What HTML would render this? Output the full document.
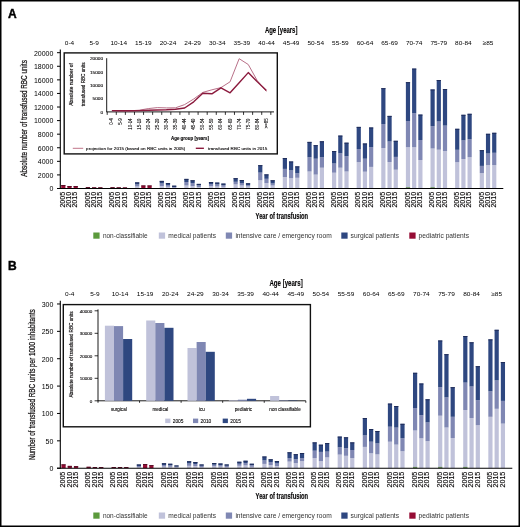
<!DOCTYPE html><html><head><meta charset="utf-8"><style>html,body{margin:0;padding:0;background:#fff;overflow:hidden}svg{display:block;will-change:transform}text{font-family:"Liberation Sans",sans-serif}</style></head><body>
<svg width="520" height="527" viewBox="0 0 520 527">
<rect x="0" y="0" width="520" height="527" fill="#fff"/>
<text x="7.9" y="18.1" font-size="12" font-weight="bold" fill="#000" stroke="#000" stroke-width="0.4">A</text>
<text x="264.9" y="33.3" font-size="8.7" font-weight="bold" textLength="32.5" lengthAdjust="spacingAndGlyphs" stroke="#231f20" stroke-width="0.18">Age [years]</text>
<rect x="61.20" y="185.00" width="4.20" height="3.50" fill="#950c34"/>
<rect x="61.20" y="185.00" width="4.20" height="0.80" fill="#4a0c20"/>
<rect x="67.40" y="186.00" width="4.20" height="2.50" fill="#950c34"/>
<rect x="67.40" y="186.00" width="4.20" height="0.80" fill="#4a0c20"/>
<rect x="73.60" y="186.00" width="4.20" height="2.50" fill="#950c34"/>
<rect x="73.60" y="186.00" width="4.20" height="0.80" fill="#4a0c20"/>
<rect x="85.82" y="187.20" width="4.20" height="1.30" fill="#950c34"/>
<rect x="85.82" y="187.20" width="4.20" height="0.80" fill="#4a0c20"/>
<rect x="92.02" y="187.40" width="4.20" height="1.10" fill="#950c34"/>
<rect x="92.02" y="187.40" width="4.20" height="0.80" fill="#4a0c20"/>
<rect x="98.22" y="187.40" width="4.20" height="1.10" fill="#950c34"/>
<rect x="98.22" y="187.40" width="4.20" height="0.80" fill="#4a0c20"/>
<rect x="110.44" y="187.30" width="4.20" height="1.20" fill="#950c34"/>
<rect x="110.44" y="187.30" width="4.20" height="0.80" fill="#4a0c20"/>
<rect x="116.64" y="187.40" width="4.20" height="1.10" fill="#950c34"/>
<rect x="116.64" y="187.40" width="4.20" height="0.80" fill="#4a0c20"/>
<rect x="122.84" y="187.50" width="4.20" height="1.00" fill="#950c34"/>
<rect x="122.84" y="187.50" width="4.20" height="0.80" fill="#4a0c20"/>
<rect x="135.06" y="186.50" width="4.20" height="2.00" fill="#c0c2da"/>
<rect x="135.06" y="184.50" width="4.20" height="2.00" fill="#7f87b3"/>
<rect x="135.06" y="182.40" width="4.20" height="2.10" fill="#2e4780"/>
<rect x="135.06" y="182.40" width="4.20" height="0.90" fill="#1e2a55"/>
<rect x="141.26" y="185.50" width="4.20" height="3.00" fill="#950c34"/>
<rect x="141.26" y="185.50" width="4.20" height="0.80" fill="#4a0c20"/>
<rect x="147.46" y="185.50" width="4.20" height="3.00" fill="#950c34"/>
<rect x="147.46" y="185.50" width="4.20" height="0.80" fill="#4a0c20"/>
<rect x="159.68" y="186.00" width="4.20" height="2.50" fill="#c0c2da"/>
<rect x="159.68" y="183.50" width="4.20" height="2.50" fill="#7f87b3"/>
<rect x="159.68" y="180.90" width="4.20" height="2.60" fill="#2e4780"/>
<rect x="159.68" y="180.90" width="4.20" height="0.90" fill="#1e2a55"/>
<rect x="165.88" y="186.80" width="4.20" height="1.70" fill="#c0c2da"/>
<rect x="165.88" y="185.00" width="4.20" height="1.80" fill="#7f87b3"/>
<rect x="165.88" y="183.00" width="4.20" height="2.00" fill="#2e4780"/>
<rect x="165.88" y="183.00" width="4.20" height="0.90" fill="#1e2a55"/>
<rect x="172.08" y="187.80" width="4.20" height="0.70" fill="#c0c2da"/>
<rect x="172.08" y="187.00" width="4.20" height="0.80" fill="#7f87b3"/>
<rect x="172.08" y="185.70" width="4.20" height="1.30" fill="#2e4780"/>
<rect x="172.08" y="185.70" width="4.20" height="0.90" fill="#1e2a55"/>
<rect x="184.30" y="185.50" width="4.20" height="3.00" fill="#c0c2da"/>
<rect x="184.30" y="182.00" width="4.20" height="3.50" fill="#7f87b3"/>
<rect x="184.30" y="178.90" width="4.20" height="3.10" fill="#2e4780"/>
<rect x="184.30" y="178.90" width="4.20" height="0.90" fill="#1e2a55"/>
<rect x="190.50" y="186.00" width="4.20" height="2.50" fill="#c0c2da"/>
<rect x="190.50" y="183.00" width="4.20" height="3.00" fill="#7f87b3"/>
<rect x="190.50" y="180.30" width="4.20" height="2.70" fill="#2e4780"/>
<rect x="190.50" y="180.30" width="4.20" height="0.90" fill="#1e2a55"/>
<rect x="196.70" y="187.00" width="4.20" height="1.50" fill="#c0c2da"/>
<rect x="196.70" y="185.50" width="4.20" height="1.50" fill="#7f87b3"/>
<rect x="196.70" y="183.90" width="4.20" height="1.60" fill="#2e4780"/>
<rect x="196.70" y="183.90" width="4.20" height="0.90" fill="#1e2a55"/>
<rect x="208.92" y="186.20" width="4.20" height="2.30" fill="#c0c2da"/>
<rect x="208.92" y="184.00" width="4.20" height="2.20" fill="#7f87b3"/>
<rect x="208.92" y="182.00" width="4.20" height="2.00" fill="#2e4780"/>
<rect x="208.92" y="182.00" width="4.20" height="0.90" fill="#1e2a55"/>
<rect x="215.12" y="186.50" width="4.20" height="2.00" fill="#c0c2da"/>
<rect x="215.12" y="184.50" width="4.20" height="2.00" fill="#7f87b3"/>
<rect x="215.12" y="182.60" width="4.20" height="1.90" fill="#2e4780"/>
<rect x="215.12" y="182.60" width="4.20" height="0.90" fill="#1e2a55"/>
<rect x="221.32" y="186.80" width="4.20" height="1.70" fill="#c0c2da"/>
<rect x="221.32" y="185.30" width="4.20" height="1.50" fill="#7f87b3"/>
<rect x="221.32" y="183.60" width="4.20" height="1.70" fill="#2e4780"/>
<rect x="221.32" y="183.60" width="4.20" height="0.90" fill="#1e2a55"/>
<rect x="233.54" y="184.40" width="4.20" height="4.10" fill="#c0c2da"/>
<rect x="233.54" y="181.80" width="4.20" height="2.60" fill="#7f87b3"/>
<rect x="233.54" y="178.20" width="4.20" height="3.60" fill="#2e4780"/>
<rect x="233.54" y="178.20" width="4.20" height="0.90" fill="#1e2a55"/>
<rect x="239.74" y="185.50" width="4.20" height="3.00" fill="#c0c2da"/>
<rect x="239.74" y="183.00" width="4.20" height="2.50" fill="#7f87b3"/>
<rect x="239.74" y="180.00" width="4.20" height="3.00" fill="#2e4780"/>
<rect x="239.74" y="180.00" width="4.20" height="0.90" fill="#1e2a55"/>
<rect x="245.94" y="186.50" width="4.20" height="2.00" fill="#c0c2da"/>
<rect x="245.94" y="185.00" width="4.20" height="1.50" fill="#7f87b3"/>
<rect x="245.94" y="183.30" width="4.20" height="1.70" fill="#2e4780"/>
<rect x="245.94" y="183.30" width="4.20" height="0.90" fill="#1e2a55"/>
<rect x="258.16" y="180.30" width="4.20" height="8.20" fill="#c0c2da"/>
<rect x="258.16" y="172.60" width="4.20" height="7.70" fill="#7f87b3"/>
<rect x="258.16" y="165.20" width="4.20" height="7.40" fill="#2e4780"/>
<rect x="258.16" y="165.20" width="4.20" height="0.90" fill="#1e2a55"/>
<rect x="264.36" y="183.00" width="4.20" height="5.50" fill="#c0c2da"/>
<rect x="264.36" y="178.80" width="4.20" height="4.20" fill="#7f87b3"/>
<rect x="264.36" y="174.40" width="4.20" height="4.40" fill="#2e4780"/>
<rect x="264.36" y="174.40" width="4.20" height="0.90" fill="#1e2a55"/>
<rect x="270.56" y="185.50" width="4.20" height="3.00" fill="#c0c2da"/>
<rect x="270.56" y="183.50" width="4.20" height="2.00" fill="#7f87b3"/>
<rect x="270.56" y="180.30" width="4.20" height="3.20" fill="#2e4780"/>
<rect x="270.56" y="180.30" width="4.20" height="0.90" fill="#1e2a55"/>
<rect x="282.78" y="177.00" width="4.20" height="11.50" fill="#c0c2da"/>
<rect x="282.78" y="168.90" width="4.20" height="8.10" fill="#7f87b3"/>
<rect x="282.78" y="158.10" width="4.20" height="10.80" fill="#2e4780"/>
<rect x="282.78" y="158.10" width="4.20" height="0.90" fill="#1e2a55"/>
<rect x="288.98" y="178.20" width="4.20" height="10.30" fill="#c0c2da"/>
<rect x="288.98" y="170.40" width="4.20" height="7.80" fill="#7f87b3"/>
<rect x="288.98" y="161.50" width="4.20" height="8.90" fill="#2e4780"/>
<rect x="288.98" y="161.50" width="4.20" height="0.90" fill="#1e2a55"/>
<rect x="295.18" y="177.80" width="4.20" height="10.70" fill="#c0c2da"/>
<rect x="295.18" y="173.30" width="4.20" height="4.50" fill="#7f87b3"/>
<rect x="295.18" y="166.40" width="4.20" height="6.90" fill="#2e4780"/>
<rect x="295.18" y="166.40" width="4.20" height="0.90" fill="#1e2a55"/>
<rect x="307.40" y="171.50" width="4.20" height="17.00" fill="#c0c2da"/>
<rect x="307.40" y="157.30" width="4.20" height="14.20" fill="#7f87b3"/>
<rect x="307.40" y="141.90" width="4.20" height="15.40" fill="#2e4780"/>
<rect x="307.40" y="141.90" width="4.20" height="0.90" fill="#1e2a55"/>
<rect x="313.60" y="174.60" width="4.20" height="13.90" fill="#c0c2da"/>
<rect x="313.60" y="158.70" width="4.20" height="15.90" fill="#7f87b3"/>
<rect x="313.60" y="145.20" width="4.20" height="13.50" fill="#2e4780"/>
<rect x="313.60" y="145.20" width="4.20" height="0.90" fill="#1e2a55"/>
<rect x="319.80" y="167.70" width="4.20" height="20.80" fill="#c0c2da"/>
<rect x="319.80" y="157.30" width="4.20" height="10.40" fill="#7f87b3"/>
<rect x="319.80" y="141.30" width="4.20" height="16.00" fill="#2e4780"/>
<rect x="319.80" y="141.30" width="4.20" height="0.90" fill="#1e2a55"/>
<rect x="332.02" y="172.70" width="4.20" height="15.80" fill="#c0c2da"/>
<rect x="332.02" y="163.50" width="4.20" height="9.20" fill="#7f87b3"/>
<rect x="332.02" y="151.00" width="4.20" height="12.50" fill="#2e4780"/>
<rect x="332.02" y="151.00" width="4.20" height="0.90" fill="#1e2a55"/>
<rect x="338.22" y="167.70" width="4.20" height="20.80" fill="#c0c2da"/>
<rect x="338.22" y="153.30" width="4.20" height="14.40" fill="#7f87b3"/>
<rect x="338.22" y="135.60" width="4.20" height="17.70" fill="#2e4780"/>
<rect x="338.22" y="135.60" width="4.20" height="0.90" fill="#1e2a55"/>
<rect x="344.42" y="171.50" width="4.20" height="17.00" fill="#c0c2da"/>
<rect x="344.42" y="156.20" width="4.20" height="15.30" fill="#7f87b3"/>
<rect x="344.42" y="142.70" width="4.20" height="13.50" fill="#2e4780"/>
<rect x="344.42" y="142.70" width="4.20" height="0.90" fill="#1e2a55"/>
<rect x="356.64" y="162.10" width="4.20" height="26.40" fill="#c0c2da"/>
<rect x="356.64" y="149.00" width="4.20" height="13.10" fill="#7f87b3"/>
<rect x="356.64" y="126.90" width="4.20" height="22.10" fill="#2e4780"/>
<rect x="356.64" y="126.90" width="4.20" height="0.90" fill="#1e2a55"/>
<rect x="362.84" y="171.70" width="4.20" height="16.80" fill="#c0c2da"/>
<rect x="362.84" y="158.70" width="4.20" height="13.00" fill="#7f87b3"/>
<rect x="362.84" y="143.50" width="4.20" height="15.20" fill="#2e4780"/>
<rect x="362.84" y="143.50" width="4.20" height="0.90" fill="#1e2a55"/>
<rect x="369.04" y="166.90" width="4.20" height="21.60" fill="#c0c2da"/>
<rect x="369.04" y="147.10" width="4.20" height="19.80" fill="#7f87b3"/>
<rect x="369.04" y="127.50" width="4.20" height="19.60" fill="#2e4780"/>
<rect x="369.04" y="127.50" width="4.20" height="0.90" fill="#1e2a55"/>
<rect x="381.26" y="148.00" width="4.20" height="40.50" fill="#c0c2da"/>
<rect x="381.26" y="124.10" width="4.20" height="23.90" fill="#7f87b3"/>
<rect x="381.26" y="88.20" width="4.20" height="35.90" fill="#2e4780"/>
<rect x="381.26" y="88.20" width="4.20" height="0.90" fill="#1e2a55"/>
<rect x="387.46" y="162.00" width="4.20" height="26.50" fill="#c0c2da"/>
<rect x="387.46" y="141.50" width="4.20" height="20.50" fill="#7f87b3"/>
<rect x="387.46" y="115.90" width="4.20" height="25.60" fill="#2e4780"/>
<rect x="387.46" y="115.90" width="4.20" height="0.90" fill="#1e2a55"/>
<rect x="393.66" y="169.70" width="4.20" height="18.80" fill="#c0c2da"/>
<rect x="393.66" y="156.90" width="4.20" height="12.80" fill="#7f87b3"/>
<rect x="393.66" y="140.80" width="4.20" height="16.10" fill="#2e4780"/>
<rect x="393.66" y="140.80" width="4.20" height="0.90" fill="#1e2a55"/>
<rect x="405.88" y="147.20" width="4.20" height="41.30" fill="#c0c2da"/>
<rect x="405.88" y="187.20" width="4.20" height="1.30" fill="#6f9a5e"/>
<rect x="405.88" y="121.00" width="4.20" height="26.20" fill="#7f87b3"/>
<rect x="405.88" y="82.20" width="4.20" height="38.80" fill="#2e4780"/>
<rect x="405.88" y="82.20" width="4.20" height="0.90" fill="#1e2a55"/>
<rect x="412.08" y="147.20" width="4.20" height="41.30" fill="#c0c2da"/>
<rect x="412.08" y="113.30" width="4.20" height="33.90" fill="#7f87b3"/>
<rect x="412.08" y="68.60" width="4.20" height="44.70" fill="#2e4780"/>
<rect x="412.08" y="68.60" width="4.20" height="0.90" fill="#1e2a55"/>
<rect x="418.28" y="160.00" width="4.20" height="28.50" fill="#c0c2da"/>
<rect x="418.28" y="140.00" width="4.20" height="20.00" fill="#7f87b3"/>
<rect x="418.28" y="114.60" width="4.20" height="25.40" fill="#2e4780"/>
<rect x="418.28" y="114.60" width="4.20" height="0.90" fill="#1e2a55"/>
<rect x="430.50" y="148.50" width="4.20" height="40.00" fill="#c0c2da"/>
<rect x="430.50" y="187.20" width="4.20" height="1.30" fill="#6f9a5e"/>
<rect x="430.50" y="126.20" width="4.20" height="22.30" fill="#7f87b3"/>
<rect x="430.50" y="89.50" width="4.20" height="36.70" fill="#2e4780"/>
<rect x="430.50" y="89.50" width="4.20" height="0.90" fill="#1e2a55"/>
<rect x="436.70" y="149.70" width="4.20" height="38.80" fill="#c0c2da"/>
<rect x="436.70" y="121.50" width="4.20" height="28.20" fill="#7f87b3"/>
<rect x="436.70" y="80.00" width="4.20" height="41.50" fill="#2e4780"/>
<rect x="436.70" y="80.00" width="4.20" height="0.90" fill="#1e2a55"/>
<rect x="442.90" y="151.00" width="4.20" height="37.50" fill="#c0c2da"/>
<rect x="442.90" y="125.60" width="4.20" height="25.40" fill="#7f87b3"/>
<rect x="442.90" y="89.00" width="4.20" height="36.60" fill="#2e4780"/>
<rect x="442.90" y="89.00" width="4.20" height="0.90" fill="#1e2a55"/>
<rect x="455.12" y="162.20" width="4.20" height="26.30" fill="#c0c2da"/>
<rect x="455.12" y="149.80" width="4.20" height="12.40" fill="#7f87b3"/>
<rect x="455.12" y="128.80" width="4.20" height="21.00" fill="#2e4780"/>
<rect x="455.12" y="128.80" width="4.20" height="0.90" fill="#1e2a55"/>
<rect x="461.32" y="159.00" width="4.20" height="29.50" fill="#c0c2da"/>
<rect x="461.32" y="140.40" width="4.20" height="18.60" fill="#7f87b3"/>
<rect x="461.32" y="114.80" width="4.20" height="25.60" fill="#2e4780"/>
<rect x="461.32" y="114.80" width="4.20" height="0.90" fill="#1e2a55"/>
<rect x="467.52" y="157.20" width="4.20" height="31.30" fill="#c0c2da"/>
<rect x="467.52" y="139.30" width="4.20" height="17.90" fill="#7f87b3"/>
<rect x="467.52" y="113.80" width="4.20" height="25.50" fill="#2e4780"/>
<rect x="467.52" y="113.80" width="4.20" height="0.90" fill="#1e2a55"/>
<rect x="479.74" y="173.10" width="4.20" height="15.40" fill="#c0c2da"/>
<rect x="479.74" y="165.90" width="4.20" height="7.20" fill="#7f87b3"/>
<rect x="479.74" y="150.20" width="4.20" height="15.70" fill="#2e4780"/>
<rect x="479.74" y="150.20" width="4.20" height="0.90" fill="#1e2a55"/>
<rect x="485.94" y="165.10" width="4.20" height="23.40" fill="#c0c2da"/>
<rect x="485.94" y="153.50" width="4.20" height="11.60" fill="#7f87b3"/>
<rect x="485.94" y="133.80" width="4.20" height="19.70" fill="#2e4780"/>
<rect x="485.94" y="133.80" width="4.20" height="0.90" fill="#1e2a55"/>
<rect x="492.14" y="165.10" width="4.20" height="23.40" fill="#c0c2da"/>
<rect x="492.14" y="152.80" width="4.20" height="12.30" fill="#7f87b3"/>
<rect x="492.14" y="132.80" width="4.20" height="20.00" fill="#2e4780"/>
<rect x="492.14" y="132.80" width="4.20" height="0.90" fill="#1e2a55"/>
<line x1="60.3" y1="49.5" x2="60.3" y2="189.0" stroke="#000" stroke-width="1.1"/>
<line x1="57" y1="188.5" x2="503.3" y2="188.5" stroke="#000" stroke-width="1.1"/>
<line x1="57" y1="188.5" x2="60.3" y2="188.5" stroke="#000" stroke-width="1"/>
<text x="53.4" y="191.3" font-size="7" text-anchor="end">0</text>
<line x1="57" y1="174.92" x2="60.3" y2="174.92" stroke="#000" stroke-width="1"/>
<text x="53.4" y="177.72" font-size="7" text-anchor="end">2000</text>
<line x1="57" y1="161.34" x2="60.3" y2="161.34" stroke="#000" stroke-width="1"/>
<text x="53.4" y="164.14000000000001" font-size="7" text-anchor="end">4000</text>
<line x1="57" y1="147.76" x2="60.3" y2="147.76" stroke="#000" stroke-width="1"/>
<text x="53.4" y="150.56" font-size="7" text-anchor="end">6000</text>
<line x1="57" y1="134.18" x2="60.3" y2="134.18" stroke="#000" stroke-width="1"/>
<text x="53.4" y="136.98000000000002" font-size="7" text-anchor="end">8000</text>
<line x1="57" y1="120.6" x2="60.3" y2="120.6" stroke="#000" stroke-width="1"/>
<text x="53.4" y="123.39999999999999" font-size="7" text-anchor="end">10000</text>
<line x1="57" y1="107.02" x2="60.3" y2="107.02" stroke="#000" stroke-width="1"/>
<text x="53.4" y="109.82" font-size="7" text-anchor="end">12000</text>
<line x1="57" y1="93.44" x2="60.3" y2="93.44" stroke="#000" stroke-width="1"/>
<text x="53.4" y="96.24" font-size="7" text-anchor="end">14000</text>
<line x1="57" y1="79.86" x2="60.3" y2="79.86" stroke="#000" stroke-width="1"/>
<text x="53.4" y="82.66" font-size="7" text-anchor="end">16000</text>
<line x1="57" y1="66.28" x2="60.3" y2="66.28" stroke="#000" stroke-width="1"/>
<text x="53.4" y="69.08" font-size="7" text-anchor="end">18000</text>
<line x1="57" y1="52.69999999999999" x2="60.3" y2="52.69999999999999" stroke="#000" stroke-width="1"/>
<text x="53.4" y="55.499999999999986" font-size="7" text-anchor="end">20000</text>
<text transform="translate(27.3,176.7) rotate(-90)" font-size="8.2" textLength="116.5" lengthAdjust="spacingAndGlyphs" stroke="#231f20" stroke-width="0.25">Absolute number of transfused RBC units</text>
<text transform="translate(69.5,44.7) scale(1,0.95)" font-size="6.5" text-anchor="middle">0-4</text>
<text transform="translate(94.12,44.7) scale(1,0.95)" font-size="6.5" text-anchor="middle">5-9</text>
<text transform="translate(118.74000000000001,44.7) scale(1,0.95)" font-size="6.5" text-anchor="middle">10-14</text>
<text transform="translate(143.36,44.7) scale(1,0.95)" font-size="6.5" text-anchor="middle">15-19</text>
<text transform="translate(167.98000000000002,44.7) scale(1,0.95)" font-size="6.5" text-anchor="middle">20-24</text>
<text transform="translate(192.60000000000002,44.7) scale(1,0.95)" font-size="6.5" text-anchor="middle">24-29</text>
<text transform="translate(217.22,44.7) scale(1,0.95)" font-size="6.5" text-anchor="middle">30-34</text>
<text transform="translate(241.84,44.7) scale(1,0.95)" font-size="6.5" text-anchor="middle">35-39</text>
<text transform="translate(266.46000000000004,44.7) scale(1,0.95)" font-size="6.5" text-anchor="middle">40-44</text>
<text transform="translate(291.08000000000004,44.7) scale(1,0.95)" font-size="6.5" text-anchor="middle">45-49</text>
<text transform="translate(315.70000000000005,44.7) scale(1,0.95)" font-size="6.5" text-anchor="middle">50-54</text>
<text transform="translate(340.32,44.7) scale(1,0.95)" font-size="6.5" text-anchor="middle">55-59</text>
<text transform="translate(364.94,44.7) scale(1,0.95)" font-size="6.5" text-anchor="middle">60-64</text>
<text transform="translate(389.56,44.7) scale(1,0.95)" font-size="6.5" text-anchor="middle">65-69</text>
<text transform="translate(414.18,44.7) scale(1,0.95)" font-size="6.5" text-anchor="middle">70-74</text>
<text transform="translate(438.8,44.7) scale(1,0.95)" font-size="6.5" text-anchor="middle">75-79</text>
<text transform="translate(463.42,44.7) scale(1,0.95)" font-size="6.5" text-anchor="middle">80-84</text>
<text transform="translate(488.04,44.7) scale(1,0.95)" font-size="6.5" text-anchor="middle">&#8805;85</text>
<text transform="translate(65.0,207.6) rotate(-90)" font-size="6.5" textLength="15.8" lengthAdjust="spacingAndGlyphs" stroke="#231f20" stroke-width="0.15">2005</text>
<text transform="translate(71.2,207.6) rotate(-90)" font-size="6.5" textLength="15.8" lengthAdjust="spacingAndGlyphs" stroke="#231f20" stroke-width="0.15">2010</text>
<text transform="translate(77.4,207.6) rotate(-90)" font-size="6.5" textLength="15.8" lengthAdjust="spacingAndGlyphs" stroke="#231f20" stroke-width="0.15">2015</text>
<text transform="translate(89.62,207.6) rotate(-90)" font-size="6.5" textLength="15.8" lengthAdjust="spacingAndGlyphs" stroke="#231f20" stroke-width="0.15">2005</text>
<text transform="translate(95.82000000000001,207.6) rotate(-90)" font-size="6.5" textLength="15.8" lengthAdjust="spacingAndGlyphs" stroke="#231f20" stroke-width="0.15">2010</text>
<text transform="translate(102.02000000000001,207.6) rotate(-90)" font-size="6.5" textLength="15.8" lengthAdjust="spacingAndGlyphs" stroke="#231f20" stroke-width="0.15">2015</text>
<text transform="translate(114.24000000000001,207.6) rotate(-90)" font-size="6.5" textLength="15.8" lengthAdjust="spacingAndGlyphs" stroke="#231f20" stroke-width="0.15">2005</text>
<text transform="translate(120.44000000000001,207.6) rotate(-90)" font-size="6.5" textLength="15.8" lengthAdjust="spacingAndGlyphs" stroke="#231f20" stroke-width="0.15">2010</text>
<text transform="translate(126.64000000000001,207.6) rotate(-90)" font-size="6.5" textLength="15.8" lengthAdjust="spacingAndGlyphs" stroke="#231f20" stroke-width="0.15">2015</text>
<text transform="translate(138.86,207.6) rotate(-90)" font-size="6.5" textLength="15.8" lengthAdjust="spacingAndGlyphs" stroke="#231f20" stroke-width="0.15">2005</text>
<text transform="translate(145.06,207.6) rotate(-90)" font-size="6.5" textLength="15.8" lengthAdjust="spacingAndGlyphs" stroke="#231f20" stroke-width="0.15">2010</text>
<text transform="translate(151.26,207.6) rotate(-90)" font-size="6.5" textLength="15.8" lengthAdjust="spacingAndGlyphs" stroke="#231f20" stroke-width="0.15">2015</text>
<text transform="translate(163.48000000000002,207.6) rotate(-90)" font-size="6.5" textLength="15.8" lengthAdjust="spacingAndGlyphs" stroke="#231f20" stroke-width="0.15">2005</text>
<text transform="translate(169.68,207.6) rotate(-90)" font-size="6.5" textLength="15.8" lengthAdjust="spacingAndGlyphs" stroke="#231f20" stroke-width="0.15">2010</text>
<text transform="translate(175.88,207.6) rotate(-90)" font-size="6.5" textLength="15.8" lengthAdjust="spacingAndGlyphs" stroke="#231f20" stroke-width="0.15">2015</text>
<text transform="translate(188.10000000000002,207.6) rotate(-90)" font-size="6.5" textLength="15.8" lengthAdjust="spacingAndGlyphs" stroke="#231f20" stroke-width="0.15">2005</text>
<text transform="translate(194.3,207.6) rotate(-90)" font-size="6.5" textLength="15.8" lengthAdjust="spacingAndGlyphs" stroke="#231f20" stroke-width="0.15">2010</text>
<text transform="translate(200.5,207.6) rotate(-90)" font-size="6.5" textLength="15.8" lengthAdjust="spacingAndGlyphs" stroke="#231f20" stroke-width="0.15">2015</text>
<text transform="translate(212.72,207.6) rotate(-90)" font-size="6.5" textLength="15.8" lengthAdjust="spacingAndGlyphs" stroke="#231f20" stroke-width="0.15">2005</text>
<text transform="translate(218.92,207.6) rotate(-90)" font-size="6.5" textLength="15.8" lengthAdjust="spacingAndGlyphs" stroke="#231f20" stroke-width="0.15">2010</text>
<text transform="translate(225.11999999999998,207.6) rotate(-90)" font-size="6.5" textLength="15.8" lengthAdjust="spacingAndGlyphs" stroke="#231f20" stroke-width="0.15">2015</text>
<text transform="translate(237.34,207.6) rotate(-90)" font-size="6.5" textLength="15.8" lengthAdjust="spacingAndGlyphs" stroke="#231f20" stroke-width="0.15">2005</text>
<text transform="translate(243.54,207.6) rotate(-90)" font-size="6.5" textLength="15.8" lengthAdjust="spacingAndGlyphs" stroke="#231f20" stroke-width="0.15">2010</text>
<text transform="translate(249.73999999999998,207.6) rotate(-90)" font-size="6.5" textLength="15.8" lengthAdjust="spacingAndGlyphs" stroke="#231f20" stroke-width="0.15">2015</text>
<text transform="translate(261.96000000000004,207.6) rotate(-90)" font-size="6.5" textLength="15.8" lengthAdjust="spacingAndGlyphs" stroke="#231f20" stroke-width="0.15">2005</text>
<text transform="translate(268.16,207.6) rotate(-90)" font-size="6.5" textLength="15.8" lengthAdjust="spacingAndGlyphs" stroke="#231f20" stroke-width="0.15">2010</text>
<text transform="translate(274.36,207.6) rotate(-90)" font-size="6.5" textLength="15.8" lengthAdjust="spacingAndGlyphs" stroke="#231f20" stroke-width="0.15">2015</text>
<text transform="translate(286.58000000000004,207.6) rotate(-90)" font-size="6.5" textLength="15.8" lengthAdjust="spacingAndGlyphs" stroke="#231f20" stroke-width="0.15">2005</text>
<text transform="translate(292.78000000000003,207.6) rotate(-90)" font-size="6.5" textLength="15.8" lengthAdjust="spacingAndGlyphs" stroke="#231f20" stroke-width="0.15">2010</text>
<text transform="translate(298.98,207.6) rotate(-90)" font-size="6.5" textLength="15.8" lengthAdjust="spacingAndGlyphs" stroke="#231f20" stroke-width="0.15">2015</text>
<text transform="translate(311.20000000000005,207.6) rotate(-90)" font-size="6.5" textLength="15.8" lengthAdjust="spacingAndGlyphs" stroke="#231f20" stroke-width="0.15">2005</text>
<text transform="translate(317.40000000000003,207.6) rotate(-90)" font-size="6.5" textLength="15.8" lengthAdjust="spacingAndGlyphs" stroke="#231f20" stroke-width="0.15">2010</text>
<text transform="translate(323.6,207.6) rotate(-90)" font-size="6.5" textLength="15.8" lengthAdjust="spacingAndGlyphs" stroke="#231f20" stroke-width="0.15">2015</text>
<text transform="translate(335.82,207.6) rotate(-90)" font-size="6.5" textLength="15.8" lengthAdjust="spacingAndGlyphs" stroke="#231f20" stroke-width="0.15">2005</text>
<text transform="translate(342.02,207.6) rotate(-90)" font-size="6.5" textLength="15.8" lengthAdjust="spacingAndGlyphs" stroke="#231f20" stroke-width="0.15">2010</text>
<text transform="translate(348.21999999999997,207.6) rotate(-90)" font-size="6.5" textLength="15.8" lengthAdjust="spacingAndGlyphs" stroke="#231f20" stroke-width="0.15">2015</text>
<text transform="translate(360.44,207.6) rotate(-90)" font-size="6.5" textLength="15.8" lengthAdjust="spacingAndGlyphs" stroke="#231f20" stroke-width="0.15">2005</text>
<text transform="translate(366.64,207.6) rotate(-90)" font-size="6.5" textLength="15.8" lengthAdjust="spacingAndGlyphs" stroke="#231f20" stroke-width="0.15">2010</text>
<text transform="translate(372.84,207.6) rotate(-90)" font-size="6.5" textLength="15.8" lengthAdjust="spacingAndGlyphs" stroke="#231f20" stroke-width="0.15">2015</text>
<text transform="translate(385.06,207.6) rotate(-90)" font-size="6.5" textLength="15.8" lengthAdjust="spacingAndGlyphs" stroke="#231f20" stroke-width="0.15">2005</text>
<text transform="translate(391.26,207.6) rotate(-90)" font-size="6.5" textLength="15.8" lengthAdjust="spacingAndGlyphs" stroke="#231f20" stroke-width="0.15">2010</text>
<text transform="translate(397.46,207.6) rotate(-90)" font-size="6.5" textLength="15.8" lengthAdjust="spacingAndGlyphs" stroke="#231f20" stroke-width="0.15">2015</text>
<text transform="translate(409.68,207.6) rotate(-90)" font-size="6.5" textLength="15.8" lengthAdjust="spacingAndGlyphs" stroke="#231f20" stroke-width="0.15">2005</text>
<text transform="translate(415.88,207.6) rotate(-90)" font-size="6.5" textLength="15.8" lengthAdjust="spacingAndGlyphs" stroke="#231f20" stroke-width="0.15">2010</text>
<text transform="translate(422.08,207.6) rotate(-90)" font-size="6.5" textLength="15.8" lengthAdjust="spacingAndGlyphs" stroke="#231f20" stroke-width="0.15">2015</text>
<text transform="translate(434.3,207.6) rotate(-90)" font-size="6.5" textLength="15.8" lengthAdjust="spacingAndGlyphs" stroke="#231f20" stroke-width="0.15">2005</text>
<text transform="translate(440.5,207.6) rotate(-90)" font-size="6.5" textLength="15.8" lengthAdjust="spacingAndGlyphs" stroke="#231f20" stroke-width="0.15">2010</text>
<text transform="translate(446.7,207.6) rotate(-90)" font-size="6.5" textLength="15.8" lengthAdjust="spacingAndGlyphs" stroke="#231f20" stroke-width="0.15">2015</text>
<text transform="translate(458.92,207.6) rotate(-90)" font-size="6.5" textLength="15.8" lengthAdjust="spacingAndGlyphs" stroke="#231f20" stroke-width="0.15">2005</text>
<text transform="translate(465.12,207.6) rotate(-90)" font-size="6.5" textLength="15.8" lengthAdjust="spacingAndGlyphs" stroke="#231f20" stroke-width="0.15">2010</text>
<text transform="translate(471.32,207.6) rotate(-90)" font-size="6.5" textLength="15.8" lengthAdjust="spacingAndGlyphs" stroke="#231f20" stroke-width="0.15">2015</text>
<text transform="translate(483.54,207.6) rotate(-90)" font-size="6.5" textLength="15.8" lengthAdjust="spacingAndGlyphs" stroke="#231f20" stroke-width="0.15">2005</text>
<text transform="translate(489.74,207.6) rotate(-90)" font-size="6.5" textLength="15.8" lengthAdjust="spacingAndGlyphs" stroke="#231f20" stroke-width="0.15">2010</text>
<text transform="translate(495.94,207.6) rotate(-90)" font-size="6.5" textLength="15.8" lengthAdjust="spacingAndGlyphs" stroke="#231f20" stroke-width="0.15">2015</text>
<text x="255.6" y="219" font-size="9" font-weight="bold" textLength="52.5" lengthAdjust="spacingAndGlyphs" stroke="#231f20" stroke-width="0.18">Year of transfusion</text>
<text x="7.9" y="270.1" font-size="12" font-weight="bold" fill="#000" stroke="#000" stroke-width="0.4">B</text>
<text x="269.4" y="285.6" font-size="8.7" font-weight="bold" textLength="33.3" lengthAdjust="spacingAndGlyphs" stroke="#231f20" stroke-width="0.18">Age [years]</text>
<rect x="61.45" y="464.40" width="4.20" height="3.80" fill="#950c34"/>
<rect x="61.45" y="464.40" width="4.20" height="0.80" fill="#4a0c20"/>
<rect x="67.70" y="465.90" width="4.20" height="2.30" fill="#950c34"/>
<rect x="67.70" y="465.90" width="4.20" height="0.80" fill="#4a0c20"/>
<rect x="73.95" y="466.20" width="4.20" height="2.00" fill="#950c34"/>
<rect x="73.95" y="466.20" width="4.20" height="0.80" fill="#4a0c20"/>
<rect x="86.56" y="466.80" width="4.20" height="1.40" fill="#950c34"/>
<rect x="86.56" y="466.80" width="4.20" height="0.80" fill="#4a0c20"/>
<rect x="92.81" y="467.00" width="4.20" height="1.20" fill="#950c34"/>
<rect x="92.81" y="467.00" width="4.20" height="0.80" fill="#4a0c20"/>
<rect x="99.06" y="467.00" width="4.20" height="1.20" fill="#950c34"/>
<rect x="99.06" y="467.00" width="4.20" height="0.80" fill="#4a0c20"/>
<rect x="111.67" y="467.00" width="4.20" height="1.20" fill="#950c34"/>
<rect x="111.67" y="467.00" width="4.20" height="0.80" fill="#4a0c20"/>
<rect x="117.92" y="467.00" width="4.20" height="1.20" fill="#950c34"/>
<rect x="117.92" y="467.00" width="4.20" height="0.80" fill="#4a0c20"/>
<rect x="124.17" y="467.10" width="4.20" height="1.10" fill="#950c34"/>
<rect x="124.17" y="467.10" width="4.20" height="0.80" fill="#4a0c20"/>
<rect x="136.78" y="467.20" width="4.20" height="1.00" fill="#c0c2da"/>
<rect x="136.78" y="466.00" width="4.20" height="1.20" fill="#7f87b3"/>
<rect x="136.78" y="464.50" width="4.20" height="1.50" fill="#2e4780"/>
<rect x="136.78" y="464.50" width="4.20" height="0.90" fill="#1e2a55"/>
<rect x="143.03" y="464.00" width="4.20" height="4.20" fill="#950c34"/>
<rect x="143.03" y="464.00" width="4.20" height="0.80" fill="#4a0c20"/>
<rect x="149.28" y="465.20" width="4.20" height="3.00" fill="#950c34"/>
<rect x="149.28" y="465.20" width="4.20" height="0.80" fill="#4a0c20"/>
<rect x="161.89" y="466.60" width="4.20" height="1.60" fill="#c0c2da"/>
<rect x="161.89" y="465.00" width="4.20" height="1.60" fill="#7f87b3"/>
<rect x="161.89" y="463.25" width="4.20" height="1.75" fill="#2e4780"/>
<rect x="161.89" y="463.25" width="4.20" height="0.90" fill="#1e2a55"/>
<rect x="168.14" y="466.80" width="4.20" height="1.40" fill="#c0c2da"/>
<rect x="168.14" y="465.40" width="4.20" height="1.40" fill="#7f87b3"/>
<rect x="168.14" y="463.75" width="4.20" height="1.65" fill="#2e4780"/>
<rect x="168.14" y="463.75" width="4.20" height="0.90" fill="#1e2a55"/>
<rect x="174.39" y="467.30" width="4.20" height="0.90" fill="#c0c2da"/>
<rect x="174.39" y="466.50" width="4.20" height="0.80" fill="#7f87b3"/>
<rect x="174.39" y="465.50" width="4.20" height="1.00" fill="#2e4780"/>
<rect x="174.39" y="465.50" width="4.20" height="0.90" fill="#1e2a55"/>
<rect x="187.00" y="465.80" width="4.20" height="2.40" fill="#c0c2da"/>
<rect x="187.00" y="463.50" width="4.20" height="2.30" fill="#7f87b3"/>
<rect x="187.00" y="461.25" width="4.20" height="2.25" fill="#2e4780"/>
<rect x="187.00" y="461.25" width="4.20" height="0.90" fill="#1e2a55"/>
<rect x="193.25" y="466.00" width="4.20" height="2.20" fill="#c0c2da"/>
<rect x="193.25" y="464.00" width="4.20" height="2.00" fill="#7f87b3"/>
<rect x="193.25" y="462.00" width="4.20" height="2.00" fill="#2e4780"/>
<rect x="193.25" y="462.00" width="4.20" height="0.90" fill="#1e2a55"/>
<rect x="199.50" y="467.00" width="4.20" height="1.20" fill="#c0c2da"/>
<rect x="199.50" y="465.80" width="4.20" height="1.20" fill="#7f87b3"/>
<rect x="199.50" y="464.50" width="4.20" height="1.30" fill="#2e4780"/>
<rect x="199.50" y="464.50" width="4.20" height="0.90" fill="#1e2a55"/>
<rect x="212.11" y="466.40" width="4.20" height="1.80" fill="#c0c2da"/>
<rect x="212.11" y="464.80" width="4.20" height="1.60" fill="#7f87b3"/>
<rect x="212.11" y="463.00" width="4.20" height="1.80" fill="#2e4780"/>
<rect x="212.11" y="463.00" width="4.20" height="0.90" fill="#1e2a55"/>
<rect x="218.36" y="466.60" width="4.20" height="1.60" fill="#c0c2da"/>
<rect x="218.36" y="465.20" width="4.20" height="1.40" fill="#7f87b3"/>
<rect x="218.36" y="463.50" width="4.20" height="1.70" fill="#2e4780"/>
<rect x="218.36" y="463.50" width="4.20" height="0.90" fill="#1e2a55"/>
<rect x="224.61" y="467.00" width="4.20" height="1.20" fill="#c0c2da"/>
<rect x="224.61" y="465.80" width="4.20" height="1.20" fill="#7f87b3"/>
<rect x="224.61" y="464.50" width="4.20" height="1.30" fill="#2e4780"/>
<rect x="224.61" y="464.50" width="4.20" height="0.90" fill="#1e2a55"/>
<rect x="237.22" y="465.80" width="4.20" height="2.40" fill="#c0c2da"/>
<rect x="237.22" y="463.80" width="4.20" height="2.00" fill="#7f87b3"/>
<rect x="237.22" y="461.75" width="4.20" height="2.05" fill="#2e4780"/>
<rect x="237.22" y="461.75" width="4.20" height="0.90" fill="#1e2a55"/>
<rect x="243.47" y="465.40" width="4.20" height="2.80" fill="#c0c2da"/>
<rect x="243.47" y="463.00" width="4.20" height="2.40" fill="#7f87b3"/>
<rect x="243.47" y="460.75" width="4.20" height="2.25" fill="#2e4780"/>
<rect x="243.47" y="460.75" width="4.20" height="0.90" fill="#1e2a55"/>
<rect x="249.72" y="466.80" width="4.20" height="1.40" fill="#c0c2da"/>
<rect x="249.72" y="465.30" width="4.20" height="1.50" fill="#7f87b3"/>
<rect x="249.72" y="463.75" width="4.20" height="1.55" fill="#2e4780"/>
<rect x="249.72" y="463.75" width="4.20" height="0.90" fill="#1e2a55"/>
<rect x="262.33" y="463.90" width="4.20" height="4.30" fill="#c0c2da"/>
<rect x="262.33" y="460.40" width="4.20" height="3.50" fill="#7f87b3"/>
<rect x="262.33" y="456.50" width="4.20" height="3.90" fill="#2e4780"/>
<rect x="262.33" y="456.50" width="4.20" height="0.90" fill="#1e2a55"/>
<rect x="268.58" y="465.00" width="4.20" height="3.20" fill="#c0c2da"/>
<rect x="268.58" y="462.00" width="4.20" height="3.00" fill="#7f87b3"/>
<rect x="268.58" y="459.30" width="4.20" height="2.70" fill="#2e4780"/>
<rect x="268.58" y="459.30" width="4.20" height="0.90" fill="#1e2a55"/>
<rect x="274.83" y="466.00" width="4.20" height="2.20" fill="#c0c2da"/>
<rect x="274.83" y="463.50" width="4.20" height="2.50" fill="#7f87b3"/>
<rect x="274.83" y="461.10" width="4.20" height="2.40" fill="#2e4780"/>
<rect x="274.83" y="461.10" width="4.20" height="0.90" fill="#1e2a55"/>
<rect x="287.44" y="461.60" width="4.20" height="6.60" fill="#c0c2da"/>
<rect x="287.44" y="458.10" width="4.20" height="3.50" fill="#7f87b3"/>
<rect x="287.44" y="452.30" width="4.20" height="5.80" fill="#2e4780"/>
<rect x="287.44" y="452.30" width="4.20" height="0.90" fill="#1e2a55"/>
<rect x="293.69" y="463.00" width="4.20" height="5.20" fill="#c0c2da"/>
<rect x="293.69" y="459.30" width="4.20" height="3.70" fill="#7f87b3"/>
<rect x="293.69" y="454.20" width="4.20" height="5.10" fill="#2e4780"/>
<rect x="293.69" y="454.20" width="4.20" height="0.90" fill="#1e2a55"/>
<rect x="299.94" y="461.10" width="4.20" height="7.10" fill="#c0c2da"/>
<rect x="299.94" y="458.10" width="4.20" height="3.00" fill="#7f87b3"/>
<rect x="299.94" y="453.00" width="4.20" height="5.10" fill="#2e4780"/>
<rect x="299.94" y="453.00" width="4.20" height="0.90" fill="#1e2a55"/>
<rect x="312.55" y="458.10" width="4.20" height="10.10" fill="#c0c2da"/>
<rect x="312.55" y="450.70" width="4.20" height="7.40" fill="#7f87b3"/>
<rect x="312.55" y="442.40" width="4.20" height="8.30" fill="#2e4780"/>
<rect x="312.55" y="442.40" width="4.20" height="0.90" fill="#1e2a55"/>
<rect x="318.80" y="461.10" width="4.20" height="7.10" fill="#c0c2da"/>
<rect x="318.80" y="451.90" width="4.20" height="9.20" fill="#7f87b3"/>
<rect x="318.80" y="444.70" width="4.20" height="7.20" fill="#2e4780"/>
<rect x="318.80" y="444.70" width="4.20" height="0.90" fill="#1e2a55"/>
<rect x="325.05" y="457.40" width="4.20" height="10.80" fill="#c0c2da"/>
<rect x="325.05" y="451.60" width="4.20" height="5.80" fill="#7f87b3"/>
<rect x="325.05" y="443.10" width="4.20" height="8.50" fill="#2e4780"/>
<rect x="325.05" y="443.10" width="4.20" height="0.90" fill="#1e2a55"/>
<rect x="337.66" y="454.60" width="4.20" height="13.60" fill="#c0c2da"/>
<rect x="337.66" y="447.30" width="4.20" height="7.30" fill="#7f87b3"/>
<rect x="337.66" y="436.60" width="4.20" height="10.70" fill="#2e4780"/>
<rect x="337.66" y="436.60" width="4.20" height="0.90" fill="#1e2a55"/>
<rect x="343.91" y="455.80" width="4.20" height="12.40" fill="#c0c2da"/>
<rect x="343.91" y="448.20" width="4.20" height="7.60" fill="#7f87b3"/>
<rect x="343.91" y="437.30" width="4.20" height="10.90" fill="#2e4780"/>
<rect x="343.91" y="437.30" width="4.20" height="0.90" fill="#1e2a55"/>
<rect x="350.16" y="458.10" width="4.20" height="10.10" fill="#c0c2da"/>
<rect x="350.16" y="450.00" width="4.20" height="8.10" fill="#7f87b3"/>
<rect x="350.16" y="442.40" width="4.20" height="7.60" fill="#2e4780"/>
<rect x="350.16" y="442.40" width="4.20" height="0.90" fill="#1e2a55"/>
<rect x="362.77" y="446.90" width="4.20" height="21.30" fill="#c0c2da"/>
<rect x="362.77" y="435.40" width="4.20" height="11.50" fill="#7f87b3"/>
<rect x="362.77" y="418.10" width="4.20" height="17.30" fill="#2e4780"/>
<rect x="362.77" y="418.10" width="4.20" height="0.90" fill="#1e2a55"/>
<rect x="369.02" y="453.30" width="4.20" height="14.90" fill="#c0c2da"/>
<rect x="369.02" y="441.70" width="4.20" height="11.60" fill="#7f87b3"/>
<rect x="369.02" y="429.00" width="4.20" height="12.70" fill="#2e4780"/>
<rect x="369.02" y="429.00" width="4.20" height="0.90" fill="#1e2a55"/>
<rect x="375.27" y="454.40" width="4.20" height="13.80" fill="#c0c2da"/>
<rect x="375.27" y="443.40" width="4.20" height="11.00" fill="#7f87b3"/>
<rect x="375.27" y="431.00" width="4.20" height="12.40" fill="#2e4780"/>
<rect x="375.27" y="431.00" width="4.20" height="0.90" fill="#1e2a55"/>
<rect x="387.88" y="441.70" width="4.20" height="26.50" fill="#c0c2da"/>
<rect x="387.88" y="426.70" width="4.20" height="15.00" fill="#7f87b3"/>
<rect x="387.88" y="403.60" width="4.20" height="23.10" fill="#2e4780"/>
<rect x="387.88" y="403.60" width="4.20" height="0.90" fill="#1e2a55"/>
<rect x="394.13" y="444.60" width="4.20" height="23.60" fill="#c0c2da"/>
<rect x="394.13" y="427.60" width="4.20" height="17.00" fill="#7f87b3"/>
<rect x="394.13" y="406.00" width="4.20" height="21.60" fill="#2e4780"/>
<rect x="394.13" y="406.00" width="4.20" height="0.90" fill="#1e2a55"/>
<rect x="400.38" y="451.20" width="4.20" height="17.00" fill="#c0c2da"/>
<rect x="400.38" y="438.30" width="4.20" height="12.90" fill="#7f87b3"/>
<rect x="400.38" y="423.80" width="4.20" height="14.50" fill="#2e4780"/>
<rect x="400.38" y="423.80" width="4.20" height="0.90" fill="#1e2a55"/>
<rect x="412.99" y="430.50" width="4.20" height="37.70" fill="#c0c2da"/>
<rect x="412.99" y="466.90" width="4.20" height="1.30" fill="#6f9a5e"/>
<rect x="412.99" y="408.00" width="4.20" height="22.50" fill="#7f87b3"/>
<rect x="412.99" y="372.80" width="4.20" height="35.20" fill="#2e4780"/>
<rect x="412.99" y="372.80" width="4.20" height="0.90" fill="#1e2a55"/>
<rect x="419.24" y="438.30" width="4.20" height="29.90" fill="#c0c2da"/>
<rect x="419.24" y="415.20" width="4.20" height="23.10" fill="#7f87b3"/>
<rect x="419.24" y="383.50" width="4.20" height="31.70" fill="#2e4780"/>
<rect x="419.24" y="383.50" width="4.20" height="0.90" fill="#1e2a55"/>
<rect x="425.49" y="441.10" width="4.20" height="27.10" fill="#c0c2da"/>
<rect x="425.49" y="422.40" width="4.20" height="18.70" fill="#7f87b3"/>
<rect x="425.49" y="399.30" width="4.20" height="23.10" fill="#2e4780"/>
<rect x="425.49" y="399.30" width="4.20" height="0.90" fill="#1e2a55"/>
<rect x="438.10" y="415.70" width="4.20" height="52.50" fill="#c0c2da"/>
<rect x="438.10" y="466.90" width="4.20" height="1.30" fill="#6f9a5e"/>
<rect x="438.10" y="387.20" width="4.20" height="28.50" fill="#7f87b3"/>
<rect x="438.10" y="340.50" width="4.20" height="46.70" fill="#2e4780"/>
<rect x="438.10" y="340.50" width="4.20" height="0.90" fill="#1e2a55"/>
<rect x="444.35" y="427.50" width="4.20" height="40.70" fill="#c0c2da"/>
<rect x="444.35" y="397.40" width="4.20" height="30.10" fill="#7f87b3"/>
<rect x="444.35" y="354.20" width="4.20" height="43.20" fill="#2e4780"/>
<rect x="444.35" y="354.20" width="4.20" height="0.90" fill="#1e2a55"/>
<rect x="450.60" y="438.00" width="4.20" height="30.20" fill="#c0c2da"/>
<rect x="450.60" y="416.80" width="4.20" height="21.20" fill="#7f87b3"/>
<rect x="450.60" y="387.20" width="4.20" height="29.60" fill="#2e4780"/>
<rect x="450.60" y="387.20" width="4.20" height="0.90" fill="#1e2a55"/>
<rect x="463.21" y="410.00" width="4.20" height="58.20" fill="#c0c2da"/>
<rect x="463.21" y="466.90" width="4.20" height="1.30" fill="#6f9a5e"/>
<rect x="463.21" y="382.60" width="4.20" height="27.40" fill="#7f87b3"/>
<rect x="463.21" y="336.00" width="4.20" height="46.60" fill="#2e4780"/>
<rect x="463.21" y="336.00" width="4.20" height="0.90" fill="#1e2a55"/>
<rect x="469.46" y="418.00" width="4.20" height="50.20" fill="#c0c2da"/>
<rect x="469.46" y="386.50" width="4.20" height="31.50" fill="#7f87b3"/>
<rect x="469.46" y="342.30" width="4.20" height="44.20" fill="#2e4780"/>
<rect x="469.46" y="342.30" width="4.20" height="0.90" fill="#1e2a55"/>
<rect x="475.71" y="425.20" width="4.20" height="43.00" fill="#c0c2da"/>
<rect x="475.71" y="400.20" width="4.20" height="25.00" fill="#7f87b3"/>
<rect x="475.71" y="366.20" width="4.20" height="34.00" fill="#2e4780"/>
<rect x="475.71" y="366.20" width="4.20" height="0.90" fill="#1e2a55"/>
<rect x="488.32" y="416.80" width="4.20" height="51.40" fill="#c0c2da"/>
<rect x="488.32" y="391.30" width="4.20" height="25.50" fill="#7f87b3"/>
<rect x="488.32" y="339.40" width="4.20" height="51.90" fill="#2e4780"/>
<rect x="488.32" y="339.40" width="4.20" height="0.90" fill="#1e2a55"/>
<rect x="494.57" y="408.80" width="4.20" height="59.40" fill="#c0c2da"/>
<rect x="494.57" y="380.40" width="4.20" height="28.40" fill="#7f87b3"/>
<rect x="494.57" y="329.80" width="4.20" height="50.60" fill="#2e4780"/>
<rect x="494.57" y="329.80" width="4.20" height="0.90" fill="#1e2a55"/>
<rect x="500.82" y="423.60" width="4.20" height="44.60" fill="#c0c2da"/>
<rect x="500.82" y="400.90" width="4.20" height="22.70" fill="#7f87b3"/>
<rect x="500.82" y="362.10" width="4.20" height="38.80" fill="#2e4780"/>
<rect x="500.82" y="362.10" width="4.20" height="0.90" fill="#1e2a55"/>
<line x1="60.3" y1="300.8" x2="60.3" y2="468.7" stroke="#000" stroke-width="1.1"/>
<line x1="57" y1="468.2" x2="512.3" y2="468.2" stroke="#000" stroke-width="1.1"/>
<line x1="57" y1="468.2" x2="60.3" y2="468.2" stroke="#000" stroke-width="1"/>
<text x="53.4" y="471.0" font-size="7" text-anchor="end">0</text>
<line x1="57" y1="440.83" x2="60.3" y2="440.83" stroke="#000" stroke-width="1"/>
<text x="53.4" y="443.63" font-size="7" text-anchor="end">50</text>
<line x1="57" y1="413.46" x2="60.3" y2="413.46" stroke="#000" stroke-width="1"/>
<text x="53.4" y="416.26" font-size="7" text-anchor="end">100</text>
<line x1="57" y1="386.09" x2="60.3" y2="386.09" stroke="#000" stroke-width="1"/>
<text x="53.4" y="388.89" font-size="7" text-anchor="end">150</text>
<line x1="57" y1="358.71999999999997" x2="60.3" y2="358.71999999999997" stroke="#000" stroke-width="1"/>
<text x="53.4" y="361.52" font-size="7" text-anchor="end">200</text>
<line x1="57" y1="331.35" x2="60.3" y2="331.35" stroke="#000" stroke-width="1"/>
<text x="53.4" y="334.15000000000003" font-size="7" text-anchor="end">250</text>
<line x1="57" y1="303.98" x2="60.3" y2="303.98" stroke="#000" stroke-width="1"/>
<text x="53.4" y="306.78000000000003" font-size="7" text-anchor="end">300</text>
<text transform="translate(35.2,460) rotate(-90)" font-size="8.2" textLength="150.6" lengthAdjust="spacingAndGlyphs" stroke="#231f20" stroke-width="0.25">Number of transfused RBC units per 1000 inhabitants</text>
<text transform="translate(69.8,296.2) scale(1,0.88)" font-size="6.5" text-anchor="middle">0-4</text>
<text transform="translate(94.91,296.2) scale(1,0.88)" font-size="6.5" text-anchor="middle">5-9</text>
<text transform="translate(120.02,296.2) scale(1,0.88)" font-size="6.5" text-anchor="middle">10-14</text>
<text transform="translate(145.13,296.2) scale(1,0.88)" font-size="6.5" text-anchor="middle">15-19</text>
<text transform="translate(170.24,296.2) scale(1,0.88)" font-size="6.5" text-anchor="middle">20-24</text>
<text transform="translate(195.35,296.2) scale(1,0.88)" font-size="6.5" text-anchor="middle">24-29</text>
<text transform="translate(220.45999999999998,296.2) scale(1,0.88)" font-size="6.5" text-anchor="middle">30-34</text>
<text transform="translate(245.57,296.2) scale(1,0.88)" font-size="6.5" text-anchor="middle">35-39</text>
<text transform="translate(270.68,296.2) scale(1,0.88)" font-size="6.5" text-anchor="middle">40-44</text>
<text transform="translate(295.79,296.2) scale(1,0.88)" font-size="6.5" text-anchor="middle">45-49</text>
<text transform="translate(320.9,296.2) scale(1,0.88)" font-size="6.5" text-anchor="middle">50-54</text>
<text transform="translate(346.01,296.2) scale(1,0.88)" font-size="6.5" text-anchor="middle">55-59</text>
<text transform="translate(371.12,296.2) scale(1,0.88)" font-size="6.5" text-anchor="middle">60-64</text>
<text transform="translate(396.23,296.2) scale(1,0.88)" font-size="6.5" text-anchor="middle">65-69</text>
<text transform="translate(421.34,296.2) scale(1,0.88)" font-size="6.5" text-anchor="middle">70-74</text>
<text transform="translate(446.45,296.2) scale(1,0.88)" font-size="6.5" text-anchor="middle">75-79</text>
<text transform="translate(471.56,296.2) scale(1,0.88)" font-size="6.5" text-anchor="middle">80-84</text>
<text transform="translate(496.67,296.2) scale(1,0.88)" font-size="6.5" text-anchor="middle">&#8805;85</text>
<text transform="translate(65.25,487.5) rotate(-90)" font-size="6.5" textLength="15.8" lengthAdjust="spacingAndGlyphs" stroke="#231f20" stroke-width="0.15">2005</text>
<text transform="translate(71.5,487.5) rotate(-90)" font-size="6.5" textLength="15.8" lengthAdjust="spacingAndGlyphs" stroke="#231f20" stroke-width="0.15">2010</text>
<text transform="translate(77.75,487.5) rotate(-90)" font-size="6.5" textLength="15.8" lengthAdjust="spacingAndGlyphs" stroke="#231f20" stroke-width="0.15">2015</text>
<text transform="translate(90.36,487.5) rotate(-90)" font-size="6.5" textLength="15.8" lengthAdjust="spacingAndGlyphs" stroke="#231f20" stroke-width="0.15">2005</text>
<text transform="translate(96.61,487.5) rotate(-90)" font-size="6.5" textLength="15.8" lengthAdjust="spacingAndGlyphs" stroke="#231f20" stroke-width="0.15">2010</text>
<text transform="translate(102.86,487.5) rotate(-90)" font-size="6.5" textLength="15.8" lengthAdjust="spacingAndGlyphs" stroke="#231f20" stroke-width="0.15">2015</text>
<text transform="translate(115.47,487.5) rotate(-90)" font-size="6.5" textLength="15.8" lengthAdjust="spacingAndGlyphs" stroke="#231f20" stroke-width="0.15">2005</text>
<text transform="translate(121.72,487.5) rotate(-90)" font-size="6.5" textLength="15.8" lengthAdjust="spacingAndGlyphs" stroke="#231f20" stroke-width="0.15">2010</text>
<text transform="translate(127.97,487.5) rotate(-90)" font-size="6.5" textLength="15.8" lengthAdjust="spacingAndGlyphs" stroke="#231f20" stroke-width="0.15">2015</text>
<text transform="translate(140.57999999999998,487.5) rotate(-90)" font-size="6.5" textLength="15.8" lengthAdjust="spacingAndGlyphs" stroke="#231f20" stroke-width="0.15">2005</text>
<text transform="translate(146.82999999999998,487.5) rotate(-90)" font-size="6.5" textLength="15.8" lengthAdjust="spacingAndGlyphs" stroke="#231f20" stroke-width="0.15">2010</text>
<text transform="translate(153.07999999999998,487.5) rotate(-90)" font-size="6.5" textLength="15.8" lengthAdjust="spacingAndGlyphs" stroke="#231f20" stroke-width="0.15">2015</text>
<text transform="translate(165.69,487.5) rotate(-90)" font-size="6.5" textLength="15.8" lengthAdjust="spacingAndGlyphs" stroke="#231f20" stroke-width="0.15">2005</text>
<text transform="translate(171.94,487.5) rotate(-90)" font-size="6.5" textLength="15.8" lengthAdjust="spacingAndGlyphs" stroke="#231f20" stroke-width="0.15">2010</text>
<text transform="translate(178.19,487.5) rotate(-90)" font-size="6.5" textLength="15.8" lengthAdjust="spacingAndGlyphs" stroke="#231f20" stroke-width="0.15">2015</text>
<text transform="translate(190.79999999999998,487.5) rotate(-90)" font-size="6.5" textLength="15.8" lengthAdjust="spacingAndGlyphs" stroke="#231f20" stroke-width="0.15">2005</text>
<text transform="translate(197.04999999999998,487.5) rotate(-90)" font-size="6.5" textLength="15.8" lengthAdjust="spacingAndGlyphs" stroke="#231f20" stroke-width="0.15">2010</text>
<text transform="translate(203.29999999999998,487.5) rotate(-90)" font-size="6.5" textLength="15.8" lengthAdjust="spacingAndGlyphs" stroke="#231f20" stroke-width="0.15">2015</text>
<text transform="translate(215.90999999999997,487.5) rotate(-90)" font-size="6.5" textLength="15.8" lengthAdjust="spacingAndGlyphs" stroke="#231f20" stroke-width="0.15">2005</text>
<text transform="translate(222.15999999999997,487.5) rotate(-90)" font-size="6.5" textLength="15.8" lengthAdjust="spacingAndGlyphs" stroke="#231f20" stroke-width="0.15">2010</text>
<text transform="translate(228.40999999999997,487.5) rotate(-90)" font-size="6.5" textLength="15.8" lengthAdjust="spacingAndGlyphs" stroke="#231f20" stroke-width="0.15">2015</text>
<text transform="translate(241.01999999999998,487.5) rotate(-90)" font-size="6.5" textLength="15.8" lengthAdjust="spacingAndGlyphs" stroke="#231f20" stroke-width="0.15">2005</text>
<text transform="translate(247.26999999999998,487.5) rotate(-90)" font-size="6.5" textLength="15.8" lengthAdjust="spacingAndGlyphs" stroke="#231f20" stroke-width="0.15">2010</text>
<text transform="translate(253.51999999999998,487.5) rotate(-90)" font-size="6.5" textLength="15.8" lengthAdjust="spacingAndGlyphs" stroke="#231f20" stroke-width="0.15">2015</text>
<text transform="translate(266.13,487.5) rotate(-90)" font-size="6.5" textLength="15.8" lengthAdjust="spacingAndGlyphs" stroke="#231f20" stroke-width="0.15">2005</text>
<text transform="translate(272.38,487.5) rotate(-90)" font-size="6.5" textLength="15.8" lengthAdjust="spacingAndGlyphs" stroke="#231f20" stroke-width="0.15">2010</text>
<text transform="translate(278.63,487.5) rotate(-90)" font-size="6.5" textLength="15.8" lengthAdjust="spacingAndGlyphs" stroke="#231f20" stroke-width="0.15">2015</text>
<text transform="translate(291.24,487.5) rotate(-90)" font-size="6.5" textLength="15.8" lengthAdjust="spacingAndGlyphs" stroke="#231f20" stroke-width="0.15">2005</text>
<text transform="translate(297.49,487.5) rotate(-90)" font-size="6.5" textLength="15.8" lengthAdjust="spacingAndGlyphs" stroke="#231f20" stroke-width="0.15">2010</text>
<text transform="translate(303.74,487.5) rotate(-90)" font-size="6.5" textLength="15.8" lengthAdjust="spacingAndGlyphs" stroke="#231f20" stroke-width="0.15">2015</text>
<text transform="translate(316.34999999999997,487.5) rotate(-90)" font-size="6.5" textLength="15.8" lengthAdjust="spacingAndGlyphs" stroke="#231f20" stroke-width="0.15">2005</text>
<text transform="translate(322.59999999999997,487.5) rotate(-90)" font-size="6.5" textLength="15.8" lengthAdjust="spacingAndGlyphs" stroke="#231f20" stroke-width="0.15">2010</text>
<text transform="translate(328.84999999999997,487.5) rotate(-90)" font-size="6.5" textLength="15.8" lengthAdjust="spacingAndGlyphs" stroke="#231f20" stroke-width="0.15">2015</text>
<text transform="translate(341.46,487.5) rotate(-90)" font-size="6.5" textLength="15.8" lengthAdjust="spacingAndGlyphs" stroke="#231f20" stroke-width="0.15">2005</text>
<text transform="translate(347.71,487.5) rotate(-90)" font-size="6.5" textLength="15.8" lengthAdjust="spacingAndGlyphs" stroke="#231f20" stroke-width="0.15">2010</text>
<text transform="translate(353.96,487.5) rotate(-90)" font-size="6.5" textLength="15.8" lengthAdjust="spacingAndGlyphs" stroke="#231f20" stroke-width="0.15">2015</text>
<text transform="translate(366.57,487.5) rotate(-90)" font-size="6.5" textLength="15.8" lengthAdjust="spacingAndGlyphs" stroke="#231f20" stroke-width="0.15">2005</text>
<text transform="translate(372.82,487.5) rotate(-90)" font-size="6.5" textLength="15.8" lengthAdjust="spacingAndGlyphs" stroke="#231f20" stroke-width="0.15">2010</text>
<text transform="translate(379.07,487.5) rotate(-90)" font-size="6.5" textLength="15.8" lengthAdjust="spacingAndGlyphs" stroke="#231f20" stroke-width="0.15">2015</text>
<text transform="translate(391.68,487.5) rotate(-90)" font-size="6.5" textLength="15.8" lengthAdjust="spacingAndGlyphs" stroke="#231f20" stroke-width="0.15">2005</text>
<text transform="translate(397.93,487.5) rotate(-90)" font-size="6.5" textLength="15.8" lengthAdjust="spacingAndGlyphs" stroke="#231f20" stroke-width="0.15">2010</text>
<text transform="translate(404.18,487.5) rotate(-90)" font-size="6.5" textLength="15.8" lengthAdjust="spacingAndGlyphs" stroke="#231f20" stroke-width="0.15">2015</text>
<text transform="translate(416.78999999999996,487.5) rotate(-90)" font-size="6.5" textLength="15.8" lengthAdjust="spacingAndGlyphs" stroke="#231f20" stroke-width="0.15">2005</text>
<text transform="translate(423.03999999999996,487.5) rotate(-90)" font-size="6.5" textLength="15.8" lengthAdjust="spacingAndGlyphs" stroke="#231f20" stroke-width="0.15">2010</text>
<text transform="translate(429.28999999999996,487.5) rotate(-90)" font-size="6.5" textLength="15.8" lengthAdjust="spacingAndGlyphs" stroke="#231f20" stroke-width="0.15">2015</text>
<text transform="translate(441.9,487.5) rotate(-90)" font-size="6.5" textLength="15.8" lengthAdjust="spacingAndGlyphs" stroke="#231f20" stroke-width="0.15">2005</text>
<text transform="translate(448.15,487.5) rotate(-90)" font-size="6.5" textLength="15.8" lengthAdjust="spacingAndGlyphs" stroke="#231f20" stroke-width="0.15">2010</text>
<text transform="translate(454.4,487.5) rotate(-90)" font-size="6.5" textLength="15.8" lengthAdjust="spacingAndGlyphs" stroke="#231f20" stroke-width="0.15">2015</text>
<text transform="translate(467.01,487.5) rotate(-90)" font-size="6.5" textLength="15.8" lengthAdjust="spacingAndGlyphs" stroke="#231f20" stroke-width="0.15">2005</text>
<text transform="translate(473.26,487.5) rotate(-90)" font-size="6.5" textLength="15.8" lengthAdjust="spacingAndGlyphs" stroke="#231f20" stroke-width="0.15">2010</text>
<text transform="translate(479.51,487.5) rotate(-90)" font-size="6.5" textLength="15.8" lengthAdjust="spacingAndGlyphs" stroke="#231f20" stroke-width="0.15">2015</text>
<text transform="translate(492.12,487.5) rotate(-90)" font-size="6.5" textLength="15.8" lengthAdjust="spacingAndGlyphs" stroke="#231f20" stroke-width="0.15">2005</text>
<text transform="translate(498.37,487.5) rotate(-90)" font-size="6.5" textLength="15.8" lengthAdjust="spacingAndGlyphs" stroke="#231f20" stroke-width="0.15">2010</text>
<text transform="translate(504.62,487.5) rotate(-90)" font-size="6.5" textLength="15.8" lengthAdjust="spacingAndGlyphs" stroke="#231f20" stroke-width="0.15">2015</text>
<text x="255.6" y="499.3" font-size="9" font-weight="bold" textLength="52.5" lengthAdjust="spacingAndGlyphs" stroke="#231f20" stroke-width="0.18">Year of transfusion</text>
<rect x="93.30" y="232.50" width="6.30" height="6.20" fill="#5b9a3c"/>
<text x="102.9" y="238" font-size="6.65" textLength="44.8" lengthAdjust="spacingAndGlyphs" fill="#333">non-classifiable</text>
<rect x="158.80" y="232.50" width="6.30" height="6.20" fill="#c0c2da"/>
<text x="168.3" y="238" font-size="6.65" textLength="47.7" lengthAdjust="spacingAndGlyphs" fill="#333">medical patients</text>
<rect x="225.80" y="232.50" width="6.30" height="6.20" fill="#7f87b3"/>
<text x="235.4" y="238" font-size="6.65" textLength="96.3" lengthAdjust="spacingAndGlyphs" fill="#333">intensive care / emergency room</text>
<rect x="341.30" y="232.50" width="6.30" height="6.20" fill="#2e4780"/>
<text x="350.6" y="238" font-size="6.65" textLength="48.5" lengthAdjust="spacingAndGlyphs" fill="#333">surgical patients</text>
<rect x="409.30" y="232.50" width="6.30" height="6.20" fill="#950c34"/>
<text x="418.6" y="238" font-size="6.65" textLength="50.4" lengthAdjust="spacingAndGlyphs" fill="#333">pediatric patients</text>
<rect x="93.30" y="512.50" width="6.30" height="6.20" fill="#5b9a3c"/>
<text x="102.9" y="518" font-size="6.65" textLength="44.8" lengthAdjust="spacingAndGlyphs" fill="#333">non-classifiable</text>
<rect x="158.80" y="512.50" width="6.30" height="6.20" fill="#c0c2da"/>
<text x="168.3" y="518" font-size="6.65" textLength="47.7" lengthAdjust="spacingAndGlyphs" fill="#333">medical patients</text>
<rect x="225.80" y="512.50" width="6.30" height="6.20" fill="#7f87b3"/>
<text x="235.4" y="518" font-size="6.65" textLength="96.3" lengthAdjust="spacingAndGlyphs" fill="#333">intensive care / emergency room</text>
<rect x="341.30" y="512.50" width="6.30" height="6.20" fill="#2e4780"/>
<text x="350.6" y="518" font-size="6.65" textLength="48.5" lengthAdjust="spacingAndGlyphs" fill="#333">surgical patients</text>
<rect x="409.30" y="512.50" width="6.30" height="6.20" fill="#950c34"/>
<text x="418.6" y="518" font-size="6.65" textLength="50.4" lengthAdjust="spacingAndGlyphs" fill="#333">pediatric patients</text>
<rect x="64.2" y="52.9" width="213.1" height="101" fill="#fff" stroke="#111" stroke-width="1.4"/>
<line x1="106.7" y1="58.2" x2="106.7" y2="112.2" stroke="#000" stroke-width="0.9"/>
<line x1="106.7" y1="111.9" x2="274" y2="111.9" stroke="#000" stroke-width="0.9"/>
<text x="103.1" y="113.80000000000001" font-size="4.3" textLength="2.64" lengthAdjust="spacingAndGlyphs" text-anchor="end" stroke="#231f20" stroke-width="0.12">0</text>
<text x="103.1" y="100.37" font-size="4.3" textLength="10.56" lengthAdjust="spacingAndGlyphs" text-anchor="end" stroke="#231f20" stroke-width="0.12">5000</text>
<text x="103.1" y="86.94000000000001" font-size="4.3" textLength="13.200000000000001" lengthAdjust="spacingAndGlyphs" text-anchor="end" stroke="#231f20" stroke-width="0.12">10000</text>
<text x="103.1" y="73.51000000000002" font-size="4.3" textLength="13.200000000000001" lengthAdjust="spacingAndGlyphs" text-anchor="end" stroke="#231f20" stroke-width="0.12">15000</text>
<text x="103.1" y="60.080000000000005" font-size="4.3" textLength="13.200000000000001" lengthAdjust="spacingAndGlyphs" text-anchor="end" stroke="#231f20" stroke-width="0.12">20000</text>
<line x1="107.2" y1="111.9" x2="107.2" y2="114.9" stroke="#000" stroke-width="0.8"/>
<line x1="116.29" y1="111.9" x2="116.29" y2="114.9" stroke="#000" stroke-width="0.8"/>
<line x1="125.38" y1="111.9" x2="125.38" y2="114.9" stroke="#000" stroke-width="0.8"/>
<line x1="134.47" y1="111.9" x2="134.47" y2="114.9" stroke="#000" stroke-width="0.8"/>
<line x1="143.56" y1="111.9" x2="143.56" y2="114.9" stroke="#000" stroke-width="0.8"/>
<line x1="152.65" y1="111.9" x2="152.65" y2="114.9" stroke="#000" stroke-width="0.8"/>
<line x1="161.74" y1="111.9" x2="161.74" y2="114.9" stroke="#000" stroke-width="0.8"/>
<line x1="170.82999999999998" y1="111.9" x2="170.82999999999998" y2="114.9" stroke="#000" stroke-width="0.8"/>
<line x1="179.92000000000002" y1="111.9" x2="179.92000000000002" y2="114.9" stroke="#000" stroke-width="0.8"/>
<line x1="189.01" y1="111.9" x2="189.01" y2="114.9" stroke="#000" stroke-width="0.8"/>
<line x1="198.10000000000002" y1="111.9" x2="198.10000000000002" y2="114.9" stroke="#000" stroke-width="0.8"/>
<line x1="207.19" y1="111.9" x2="207.19" y2="114.9" stroke="#000" stroke-width="0.8"/>
<line x1="216.28" y1="111.9" x2="216.28" y2="114.9" stroke="#000" stroke-width="0.8"/>
<line x1="225.37" y1="111.9" x2="225.37" y2="114.9" stroke="#000" stroke-width="0.8"/>
<line x1="234.45999999999998" y1="111.9" x2="234.45999999999998" y2="114.9" stroke="#000" stroke-width="0.8"/>
<line x1="243.55" y1="111.9" x2="243.55" y2="114.9" stroke="#000" stroke-width="0.8"/>
<line x1="252.64" y1="111.9" x2="252.64" y2="114.9" stroke="#000" stroke-width="0.8"/>
<line x1="261.73" y1="111.9" x2="261.73" y2="114.9" stroke="#000" stroke-width="0.8"/>
<line x1="270.82" y1="111.9" x2="270.82" y2="114.9" stroke="#000" stroke-width="0.8"/>
<text transform="translate(113.39999999999999,118.4) rotate(-90)" font-size="5.0" textLength="6.43" lengthAdjust="spacingAndGlyphs" text-anchor="end" stroke="#231f20" stroke-width="0.12">0-4</text>
<text transform="translate(122.49,118.4) rotate(-90)" font-size="5.0" textLength="6.43" lengthAdjust="spacingAndGlyphs" text-anchor="end" stroke="#231f20" stroke-width="0.12">5-9</text>
<text transform="translate(131.58,118.4) rotate(-90)" font-size="5.0" textLength="11.38" lengthAdjust="spacingAndGlyphs" text-anchor="end" stroke="#231f20" stroke-width="0.12">10-14</text>
<text transform="translate(140.67000000000002,118.4) rotate(-90)" font-size="5.0" textLength="11.38" lengthAdjust="spacingAndGlyphs" text-anchor="end" stroke="#231f20" stroke-width="0.12">15-19</text>
<text transform="translate(149.76,118.4) rotate(-90)" font-size="5.0" textLength="11.38" lengthAdjust="spacingAndGlyphs" text-anchor="end" stroke="#231f20" stroke-width="0.12">20-24</text>
<text transform="translate(158.85000000000002,118.4) rotate(-90)" font-size="5.0" textLength="11.38" lengthAdjust="spacingAndGlyphs" text-anchor="end" stroke="#231f20" stroke-width="0.12">25-29</text>
<text transform="translate(167.94,118.4) rotate(-90)" font-size="5.0" textLength="11.38" lengthAdjust="spacingAndGlyphs" text-anchor="end" stroke="#231f20" stroke-width="0.12">30-34</text>
<text transform="translate(177.03,118.4) rotate(-90)" font-size="5.0" textLength="11.38" lengthAdjust="spacingAndGlyphs" text-anchor="end" stroke="#231f20" stroke-width="0.12">35-39</text>
<text transform="translate(186.12,118.4) rotate(-90)" font-size="5.0" textLength="11.38" lengthAdjust="spacingAndGlyphs" text-anchor="end" stroke="#231f20" stroke-width="0.12">40-44</text>
<text transform="translate(195.21,118.4) rotate(-90)" font-size="5.0" textLength="11.38" lengthAdjust="spacingAndGlyphs" text-anchor="end" stroke="#231f20" stroke-width="0.12">45-49</text>
<text transform="translate(204.3,118.4) rotate(-90)" font-size="5.0" textLength="11.38" lengthAdjust="spacingAndGlyphs" text-anchor="end" stroke="#231f20" stroke-width="0.12">50-54</text>
<text transform="translate(213.39,118.4) rotate(-90)" font-size="5.0" textLength="11.38" lengthAdjust="spacingAndGlyphs" text-anchor="end" stroke="#231f20" stroke-width="0.12">55-59</text>
<text transform="translate(222.48000000000002,118.4) rotate(-90)" font-size="5.0" textLength="11.38" lengthAdjust="spacingAndGlyphs" text-anchor="end" stroke="#231f20" stroke-width="0.12">60-64</text>
<text transform="translate(231.57,118.4) rotate(-90)" font-size="5.0" textLength="11.38" lengthAdjust="spacingAndGlyphs" text-anchor="end" stroke="#231f20" stroke-width="0.12">65-69</text>
<text transform="translate(240.66,118.4) rotate(-90)" font-size="5.0" textLength="11.38" lengthAdjust="spacingAndGlyphs" text-anchor="end" stroke="#231f20" stroke-width="0.12">70-74</text>
<text transform="translate(249.75,118.4) rotate(-90)" font-size="5.0" textLength="11.38" lengthAdjust="spacingAndGlyphs" text-anchor="end" stroke="#231f20" stroke-width="0.12">75-79</text>
<text transform="translate(258.84,118.4) rotate(-90)" font-size="5.0" textLength="11.38" lengthAdjust="spacingAndGlyphs" text-anchor="end" stroke="#231f20" stroke-width="0.12">80-84</text>
<text transform="translate(267.93,118.4) rotate(-90)" font-size="5.0" textLength="10.15" lengthAdjust="spacingAndGlyphs" text-anchor="end" stroke="#231f20" stroke-width="0.12">&gt;=85</text>
<text transform="translate(73.0,105.7) rotate(-90)" font-size="6.0" textLength="42.6" lengthAdjust="spacingAndGlyphs" stroke="#231f20" stroke-width="0.2">Absolute number of</text>
<text transform="translate(85.3,106.3) rotate(-90)" font-size="6.0" textLength="43.8" lengthAdjust="spacingAndGlyphs" stroke="#231f20" stroke-width="0.2">transfused RBC units</text>
<text x="171" y="139.6" font-size="6" font-weight="bold" textLength="38" lengthAdjust="spacingAndGlyphs" stroke="#231f20" stroke-width="0.18">Age group [years]</text>
<polyline points="111.90,110.6 120.99,110.8 130.08,110.8 139.17,110.2 148.26,108.6 157.35,107.6 166.44,107.9 175.53,107.8 184.62,104.6 193.71,99 202.80,92.4 211.89,89.8 220.98,87.6 230.07,81.8 239.16,58.7 248.25,64.5 257.34,80.8 266.43,91.4" fill="none" stroke="#b0607a" stroke-width="0.9"/>
<polyline points="111.90,110.6 120.99,110.8 130.08,110.8 139.17,110.6 148.26,110.3 157.35,110 166.44,109.8 175.53,109.3 184.62,108 193.71,101.8 202.80,93.2 211.89,93.8 220.98,87.8 230.07,92.8 239.16,82.7 248.25,72.6 257.34,81.8 266.43,90.5" fill="none" stroke="#8b1a3d" stroke-width="1.4" stroke-linejoin="round"/>
<line x1="72.8" y1="148.3" x2="83.2" y2="148.3" stroke="#b0506a" stroke-width="0.8"/>
<text x="86.1" y="149.8" font-size="4.4" textLength="99.3" lengthAdjust="spacingAndGlyphs" stroke="#231f20" stroke-width="0.12">projection for 2015 (based on RBC units in 2005)</text>
<line x1="195.8" y1="148.3" x2="203.9" y2="148.3" stroke="#8b1a3d" stroke-width="1.4"/>
<text x="208" y="149.8" font-size="4.4" textLength="59.4" lengthAdjust="spacingAndGlyphs" stroke="#231f20" stroke-width="0.12">transfused RBC units in 2015</text>
<rect x="63.3" y="304.6" width="247.1" height="122.2" fill="#fff" stroke="#111" stroke-width="1.4"/>
<line x1="98" y1="309.4" x2="98" y2="401.2" stroke="#000" stroke-width="0.9"/>
<line x1="98" y1="400.8" x2="305.8" y2="400.8" stroke="#000" stroke-width="0.9"/>
<line x1="94.6" y1="400.8" x2="98" y2="400.8" stroke="#000" stroke-width="0.8"/>
<text x="92.4" y="402.5" font-size="4.3" textLength="2.52" lengthAdjust="spacingAndGlyphs" text-anchor="end" stroke="#231f20" stroke-width="0.12">0</text>
<line x1="94.6" y1="378.3" x2="98" y2="378.3" stroke="#000" stroke-width="0.8"/>
<text x="92.4" y="380.0" font-size="4.3" textLength="12.6" lengthAdjust="spacingAndGlyphs" text-anchor="end" stroke="#231f20" stroke-width="0.12">10000</text>
<line x1="94.6" y1="355.8" x2="98" y2="355.8" stroke="#000" stroke-width="0.8"/>
<text x="92.4" y="357.5" font-size="4.3" textLength="12.6" lengthAdjust="spacingAndGlyphs" text-anchor="end" stroke="#231f20" stroke-width="0.12">20000</text>
<line x1="94.6" y1="333.3" x2="98" y2="333.3" stroke="#000" stroke-width="0.8"/>
<text x="92.4" y="335.0" font-size="4.3" textLength="12.6" lengthAdjust="spacingAndGlyphs" text-anchor="end" stroke="#231f20" stroke-width="0.12">30000</text>
<line x1="94.6" y1="310.8" x2="98" y2="310.8" stroke="#000" stroke-width="0.8"/>
<text x="92.4" y="312.5" font-size="4.3" textLength="12.6" lengthAdjust="spacingAndGlyphs" text-anchor="end" stroke="#231f20" stroke-width="0.12">40000</text>
<line x1="98.0" y1="400.8" x2="98.0" y2="402.8" stroke="#000" stroke-width="0.8"/>
<line x1="139.56" y1="400.8" x2="139.56" y2="402.8" stroke="#000" stroke-width="0.8"/>
<line x1="181.12" y1="400.8" x2="181.12" y2="402.8" stroke="#000" stroke-width="0.8"/>
<line x1="222.68" y1="400.8" x2="222.68" y2="402.8" stroke="#000" stroke-width="0.8"/>
<line x1="264.24" y1="400.8" x2="264.24" y2="402.8" stroke="#000" stroke-width="0.8"/>
<line x1="305.8" y1="400.8" x2="305.8" y2="402.8" stroke="#000" stroke-width="0.8"/>
<rect x="104.90" y="325.70" width="9.10" height="75.10" fill="#c0c2da"/>
<rect x="114.00" y="326.10" width="9.10" height="74.70" fill="#7f87b3"/>
<rect x="123.10" y="339.00" width="9.10" height="61.80" fill="#2e4780"/>
<rect x="146.20" y="320.50" width="9.10" height="80.30" fill="#c0c2da"/>
<rect x="155.30" y="323.00" width="9.10" height="77.80" fill="#7f87b3"/>
<rect x="164.40" y="327.80" width="9.10" height="73.00" fill="#2e4780"/>
<rect x="187.50" y="348.00" width="9.10" height="52.80" fill="#c0c2da"/>
<rect x="196.60" y="342.00" width="9.10" height="58.80" fill="#7f87b3"/>
<rect x="205.70" y="351.80" width="9.10" height="49.00" fill="#2e4780"/>
<rect x="228.80" y="400.20" width="9.10" height="0.60" fill="#c0c2da"/>
<rect x="237.90" y="399.70" width="9.10" height="1.10" fill="#7f87b3"/>
<rect x="247.00" y="398.80" width="9.10" height="2.00" fill="#2e4780"/>
<rect x="270.10" y="396.00" width="9.10" height="4.80" fill="#c0c2da"/>
<rect x="279.20" y="400.30" width="9.10" height="0.50" fill="#7f87b3"/>
<rect x="288.30" y="400.40" width="9.10" height="0.40" fill="#2e4780"/>
<text x="118.8" y="410.8" font-size="4.6" text-anchor="middle" stroke="#231f20" stroke-width="0.12">surgical</text>
<text x="160.36" y="410.8" font-size="4.6" text-anchor="middle" stroke="#231f20" stroke-width="0.12">medical</text>
<text x="201.92000000000002" y="410.8" font-size="4.6" text-anchor="middle" stroke="#231f20" stroke-width="0.12">icu</text>
<text x="243.48000000000002" y="410.8" font-size="4.6" text-anchor="middle" stroke="#231f20" stroke-width="0.12">pediatric</text>
<text x="285.04" y="410.8" font-size="4.6" text-anchor="middle" stroke="#231f20" stroke-width="0.12">non classifiable</text>
<text transform="translate(73.0,397.6) rotate(-90)" font-size="6.0" textLength="86.2" lengthAdjust="spacingAndGlyphs" stroke="#231f20" stroke-width="0.2">Absolute number of transfused RBC units</text>
<rect x="165.20" y="418.60" width="5.20" height="4.50" fill="#c0c2da"/>
<text x="172.7" y="422.7" font-size="5.2" textLength="10.8" lengthAdjust="spacingAndGlyphs" stroke="#231f20" stroke-width="0.12">2005</text>
<rect x="193.00" y="418.60" width="5.20" height="4.50" fill="#7f87b3"/>
<text x="200.5" y="422.7" font-size="5.2" textLength="10.8" lengthAdjust="spacingAndGlyphs" stroke="#231f20" stroke-width="0.12">2010</text>
<rect x="222.70" y="418.60" width="5.20" height="4.50" fill="#2e4780"/>
<text x="230.2" y="422.7" font-size="5.2" textLength="10.8" lengthAdjust="spacingAndGlyphs" stroke="#231f20" stroke-width="0.12">2015</text>
<rect x="0" y="0" width="520" height="527" fill="none" stroke="#000" stroke-width="3"/>
</svg></body></html>
